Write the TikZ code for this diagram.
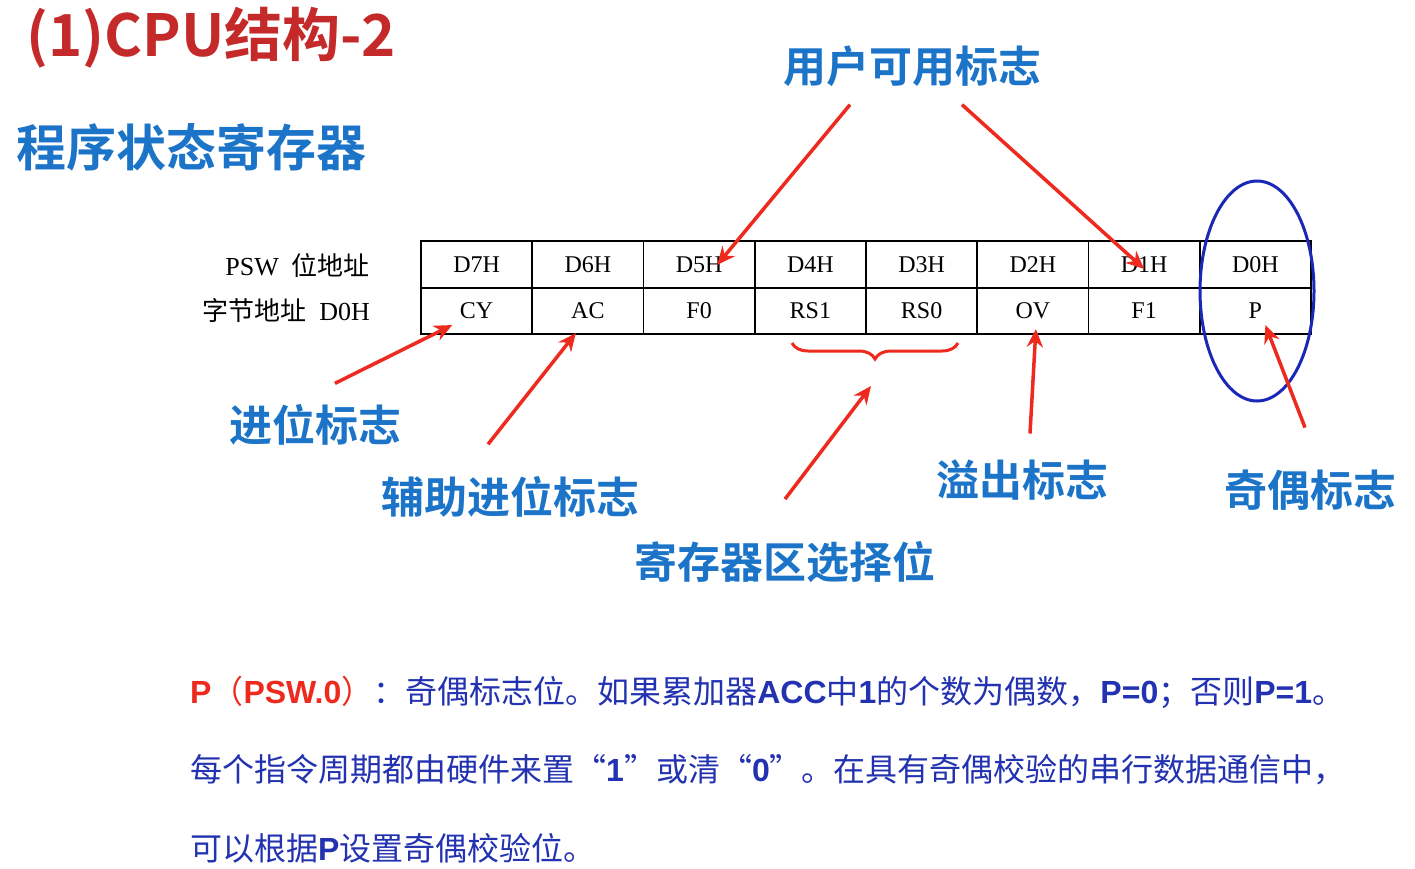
\documentclass[tikz,border=0pt]{standalone}
\usepackage{fontspec}
\setmainfont{Liberation Serif}
\newfontfamily\cjk{Noto Sans CJK SC}
\newfontfamily\cjkb{Noto Sans CJK SC Bold}
\newfontfamily\latinb{Liberation Sans Bold}
\usetikzlibrary{calc,decorations.pathreplacing,arrows.meta}

\definecolor{titlered}{HTML}{C42A2A}
\definecolor{headblue}{HTML}{1C74C8}
\definecolor{arrowred}{HTML}{EE2A1E}
\definecolor{ringblue}{HTML}{1A28B8}
\definecolor{textblue}{HTML}{2232B0}

\tikzset{
  cell/.style={draw, line width=1.6pt, minimum width=111.25pt, minimum height=46.5pt,
    inner sep=0pt, font=\fontsize{24}{26}\selectfont},
  flag/.style={text=headblue, font=\cjkb\fontsize{43}{46}\selectfont, inner sep=0pt},
  redarrow/.style={draw=arrowred, line width=3.5pt, -{Stealth[length=18pt,width=16pt]}},
  bodyline/.style={anchor=west, text=textblue, font=\cjk\fontsize{32}{34}\selectfont, inner sep=0pt}
}

\begin{document}
\begin{tikzpicture}[x=1pt, y=-1pt]
  \useasboundingbox (0,0) rectangle (1415,868);
  \fill[white] (0,0) rectangle (1415,868);

  % Titles
  \node[anchor=west, text=titlered, inner sep=0pt, font=\cjkb\fontsize{58}{60}\selectfont] (title) at (26,38) {(1)CPU结构-2};
  \node[anchor=west, text=headblue, inner sep=0pt, font=\cjkb\fontsize{50}{54}\selectfont] (psw) at (16,147) {程序状态寄存器};

  % Register table
  \foreach \addr [count=\i] in {D7H,D6H,D5H,D4H,D3H,D2H,D1H,D0H}
    \node[cell] (A\i) at ({421+111.25*(\i-0.5)},264.5) {\addr};
  \foreach \bit [count=\i] in {CY,AC,F0,RS1,RS0,OV,F1,P}
    \node[cell] (B\i) at ({421+111.25*(\i-0.5)},311) {\bit};

  % Row labels
  \node[anchor=east, inner sep=0pt, font=\fontsize{26}{28}\selectfont] (rowA) at (370,265) {PSW\ \ {\cjk 位地址}};
  \node[anchor=east, inner sep=0pt, font=\fontsize{26}{28}\selectfont] (rowB) at (370,311) {{\cjk 字节地址}\ \ D0H};

  % Parity ring
  \draw[ringblue, line width=3pt] (1257,291) ellipse (57pt and 110pt);

  % Register bank brace
  \draw[arrowred, line width=3pt, decorate, decoration={brace, mirror, amplitude=16pt}] (792,343) -- (958,343);
  \coordinate (braceTip) at (871,386);

  % Flag labels
  \node[flag] (user) at (912,66) {用户可用标志};
  \node[flag] (carry) at (315,425) {进位标志};
  \node[flag] (aux) at (510,497) {辅助进位标志};
  \node[flag] (bank) at (785,562) {寄存器区选择位};
  \node[flag] (over) at (1022,480) {溢出标志};
  \node[flag] (par) at (1310,490) {奇偶标志};

  % Arrows
  \draw[redarrow] ($(user.south)+(-62,18)$) -- ($(B3.north)+(18,-22)$);
  \draw[redarrow] ($(user.south)+(50,18)$) -- ($(B7.north)+(0,-18)$);
  \draw[redarrow] ($(carry.north)+(20,-21)$) -- ($(B1.south west)+(32,-10)$);
  \draw[redarrow] ($(aux.north)+(-22,-32)$) -- ($(B2.south)+(-12,-2)$);
  \draw[redarrow] ($(bank.north)+(0,-42)$) -- (braceTip);
  \draw[redarrow] ($(over.north)+(8,-26)$) -- ($(B6.south)+(3,-6)$);
  \draw[redarrow] ($(par.north)+(-5,-42)$) -- ($(B8.south)+(10,-10)$);

  % Description
  \node[bodyline] (line1) at (190,692) {{\latinb\textcolor{arrowred}{P}}\textcolor{arrowred}{（{\latinb PSW.0}）}：奇偶标志位。如果累加器{\latinb ACC}中{\latinb 1}的个数为偶数，{\latinb P=0}；否则{\latinb P=1}。};
  \node[bodyline] (line2) at (190,770) {每个指令周期都由硬件来置“{\latinb 1}”或清“{\latinb 0}”。在具有奇偶校验的串行数据通信中，};
  \node[bodyline] (line3) at (190,848) {可以根据{\latinb P}设置奇偶校验位。};
\end{tikzpicture}
\end{document}
